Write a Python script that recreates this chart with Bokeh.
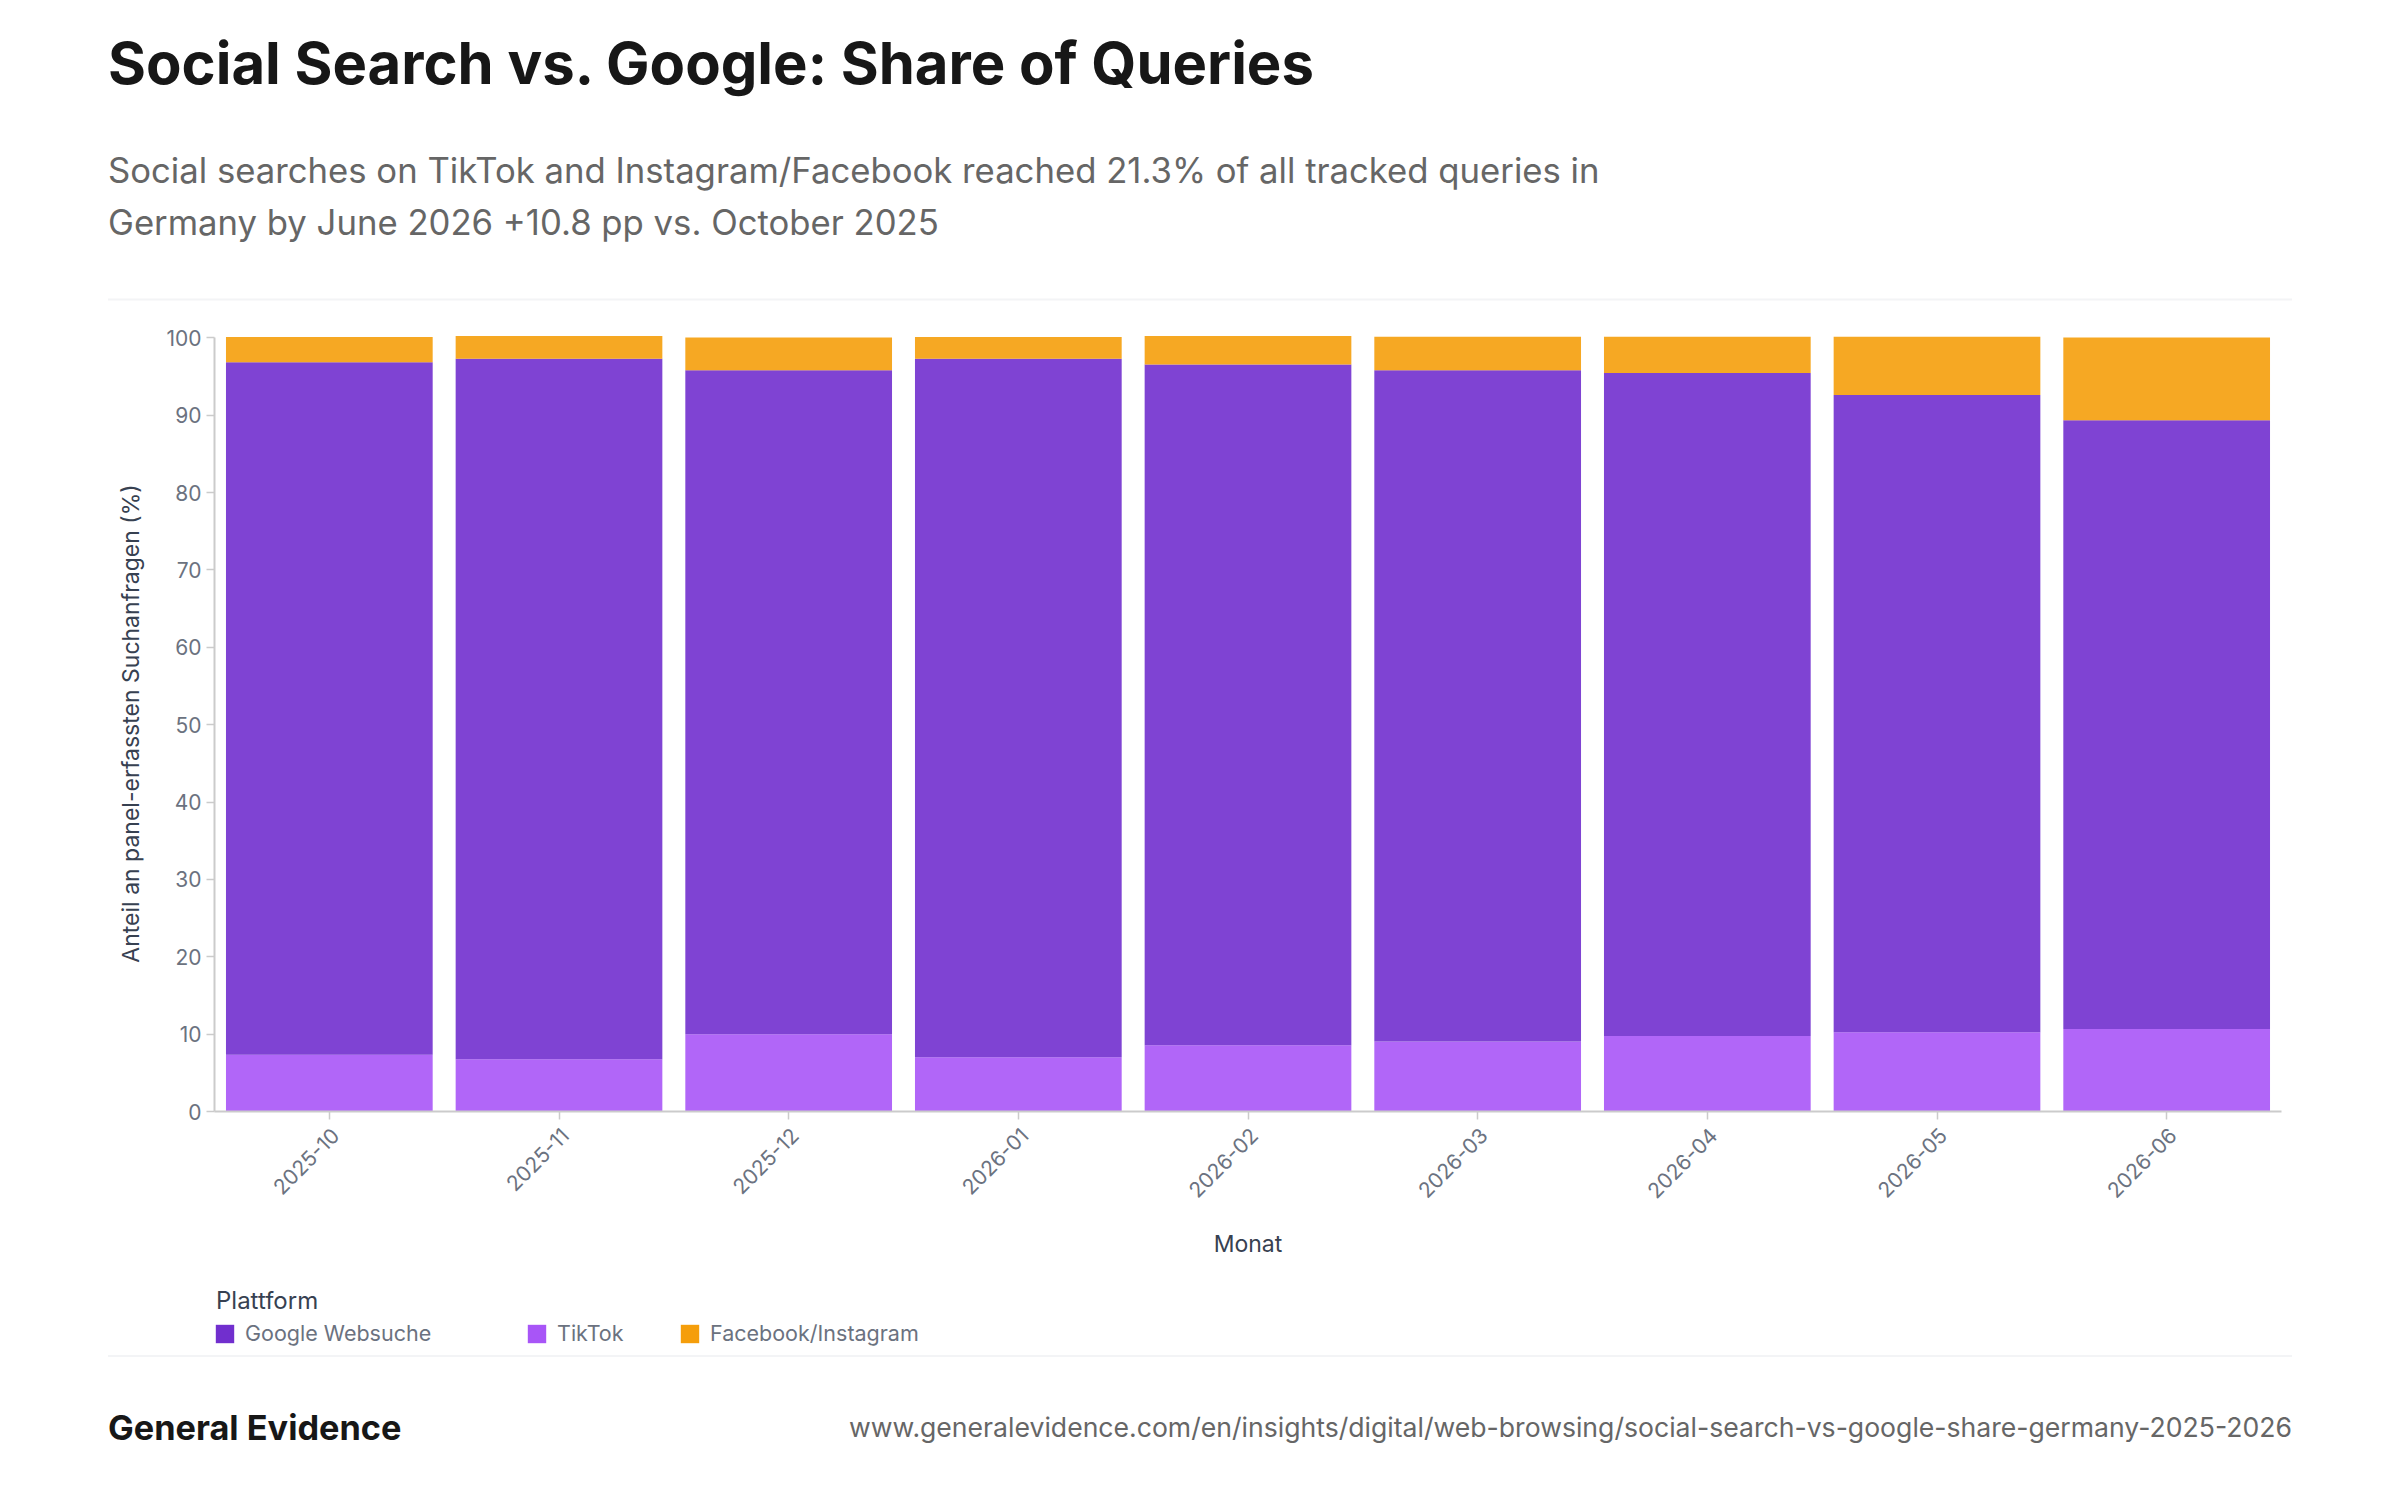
from math import pi
from bokeh.plotting import figure
from bokeh.layouts import column
from bokeh.models import Label, Legend, LegendItem, BoxAnnotation, Range1d, FixedTicker, LinearAxis
from bokeh.embed import file_html
from bokeh.resources import INLINE

months = ["2025-10", "2025-11", "2025-12", "2026-01", "2026-02", "2026-03", "2026-04", "2026-05", "2026-06"]
tiktok = [7.35, 6.75, 10.0, 7.0, 8.55, 9.05, 9.75, 10.25, 10.65]
google = [89.5, 90.55, 85.8, 90.3, 88.0, 86.75, 85.7, 82.35, 78.7]
facebook = [3.25, 2.95, 4.25, 2.8, 3.7, 4.35, 4.7, 7.55, 10.7]
y_ticks = [0, 10, 20, 30, 40, 50, 60, 70, 80, 90, 100]

TITLE = "Social Search vs. Google: Share of Queries"
SUB1 = "Social searches on TikTok and Instagram/Facebook reached 21.3% of all tracked queries in"
SUB2 = "Germany by June 2026 +10.8 pp vs. October 2025"
BRAND = "General Evidence"
URL = "www.generalevidence.com/en/insights/digital/web-browsing/social-search-vs-google-share-germany-2025-2026"

FONT = "Inter"
C_G, C_T, C_F = "#712fce", "#a855f7", "#f59e0b"

OX, OY = 2, 2        # page position of the canvas
TX = 0.5             # text and rules start a little further right
W = 2384
H_HEAD, H_CHART, H_FOOT = 303, 966, 211
FL = 216 - OX

def blank(h):
    f = figure(width=W, height=h, output_backend="svg", toolbar_location=None,
               x_range=Range1d(0, W), y_range=Range1d(0, h), frame_align=False,
               x_axis_location=None, y_axis_location=None,
               min_border=0, outline_line_color=None,
               background_fill_color="white", border_fill_color="white")
    f.grid.visible = False
    return f

def text(f, top, s, x, y, size, color, style="normal", align="left"):
    f.add_layout(Label(x=x - TX, y=top + f.height - y, text=s, text_font=FONT,
                       text_font_size=size, text_color=color, text_font_style=style,
                       text_align=align, text_baseline="middle"))

def rule(f, top, y):
    f.add_layout(BoxAnnotation(left=108 - TX, right=2292 - TX, top=top + f.height - y + 1,
                               bottom=top + f.height - y - 1, fill_color="#f3f4f6", fill_alpha=1,
                               line_color=None))

head = blank(H_HEAD)
T0 = OY
text(head, T0, TITLE, 108, 64, "58px", "#171717", "bold")
text(head, T0, SUB1, 108, 171.5, "34.7px", "#666666")
text(head, T0, SUB2, 108, 223, "34.7px", "#666666")
rule(head, T0, 301)

positions = [i + 0.5 for i in range(len(months))]

p = figure(width=W, height=H_CHART, output_backend="svg", toolbar_location=None,
           x_range=Range1d(0, len(months)),
           y_range=Range1d(0, 100.3), frame_align=False,
           min_border_left=FL, min_border_right=W - FL - 2067, min_border_top=32, min_border_bottom=158,
           outline_line_color=None, background_fill_color="white", border_fill_color="white")
p.grid.visible = False

bottoms_g = [a for a in tiktok]
tops_g = [a + b for a, b in zip(tiktok, google)]
tops_f = [a + b for a, b in zip(tops_g, facebook)]
p.vbar(x=positions, bottom=0, top=tiktok, width=0.9, fill_color=C_T, fill_alpha=0.9, line_color=None)
p.vbar(x=positions, bottom=bottoms_g, top=tops_g, width=0.9, fill_color=C_G, fill_alpha=0.9, line_color=None)
p.vbar(x=positions, bottom=tops_g, top=tops_f, width=0.9, fill_color=C_F, fill_alpha=0.9, line_color=None)

yax = p.yaxis[0]
yax.ticker = FixedTicker(ticks=y_ticks)
yax.bounds = (0, 100)
yax.axis_label = "Anteil an panel-erfassten Suchanfragen (%)"
xax = p.xaxis[0]
xax.ticker = FixedTicker(ticks=positions)
xax.major_label_overrides = {t: "" for t in positions}
xax.major_label_standoff = 0

# second axis carries the month labels, nudged right of the ticks as in the reference
LABEL_NUDGE = 0.026
p.extra_x_ranges["labels"] = Range1d(-LABEL_NUDGE, len(months) - LABEL_NUDGE)
lab = LinearAxis(x_range_name="labels",
                 ticker=FixedTicker(ticks=positions),
                 major_label_overrides=dict(zip(positions, months)),
                 axis_label="Monat", major_label_orientation=pi / 4,
                 axis_line_color=None, major_tick_line_color=None, minor_tick_line_color=None,
                 major_tick_out=0, major_tick_in=0, major_label_standoff=12,
                 axis_label_standoff=22)
p.add_layout(lab, "below")

for ax in (xax, yax):
    ax.axis_line_color = "#cbcbcb"
    ax.axis_line_width = 2
    ax.major_tick_line_color = "#cbcbcb"
    ax.major_tick_line_width = 1.5
    ax.major_tick_out = 8
    ax.major_tick_in = 0
    ax.minor_tick_line_color = None
for ax in (lab, yax):
    ax.major_label_text_font = FONT
    ax.major_label_text_font_size = "21px"
    ax.major_label_text_color = "#6b7280"
    ax.axis_label_text_font = FONT
    ax.axis_label_text_font_size = "23px"
    ax.axis_label_text_font_style = "normal"
    ax.axis_label_text_color = "#374151"
yax.major_label_standoff = 5
yax.axis_label_standoff = 18

foot = blank(H_FOOT)
T2 = OY + H_HEAD + H_CHART
text(foot, T2, "Plattform", 216, 1301.5, "24px", "#374151")
rule(foot, T2, 1357.5)
text(foot, T2, BRAND, 108, 1428.5, "34.3px", "#171717", "bold")
text(foot, T2, URL, 2292, 1428.5, "26.6px", "#666666", align="right")

swatches = [("Google Websuche", C_G, 215), ("TikTok", C_T, 527), ("Facebook/Instagram", C_F, 680)]
for name, color, lx in swatches:
    r = foot.vbar(x=[0], bottom=[0], top=[0], width=0, fill_color=color, line_color=None)
    leg = Legend(items=[LegendItem(label=name, renderers=[r])], location=(lx - OX, T2 + H_FOOT - 1348),
                 orientation="horizontal", glyph_width=23, glyph_height=23, label_text_font=FONT,
                 label_text_font_size="21.5px", label_text_color="#6b7280", label_standoff=9,
                 background_fill_alpha=0, border_line_color=None, margin=0, padding=0, spacing=0,
                 label_height=18)
    foot.add_layout(leg)

open("out.html", "w").write(file_html(column(head, p, foot, spacing=0), INLINE))
